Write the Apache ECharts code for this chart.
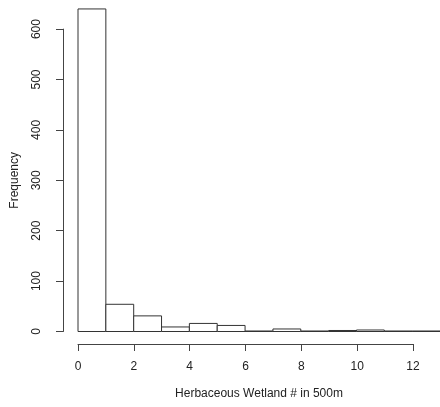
<!DOCTYPE html>
<html><head><meta charset="utf-8">
<script src="https://cdn.jsdelivr.net/npm/echarts@6/dist/echarts.min.js"></script>
<style>html,body{margin:0;padding:0;background:#fff}#c{width:440px;height:407px}</style>
</head><body><div id="c"></div>
<script>
var binStarts = [0,1,2,3,4,5,6,7,8,9,10,11,12];
var binWidth = 1;
var counts = [640,54,31,9,16,12,1,5,1,2,3,1,1];
var xTicks = [0,2,4,6,8,10,12];
var yTicks = [0,100,200,300,400,500,600];
var xTitle = 'Herbaceous Wetland # in 500m';
var yTitle = 'Frequency';

var data = binStarts.map(function(s,i){return [s, s+binWidth, counts[i]];});
var font = 'Liberation Sans, Arial, sans-serif';
var lineCol = '#444';
var chart = echarts.init(document.getElementById('c'), null, {renderer:'canvas'});
var unit = 27.92;
chart.setOption({
  animation:false,
  grid:[
    {left:78, top:331.5-650*0.504, width:unit*13, height:650*0.504, containLabel:false},
    {left:63, top:331.5-600*0.504, width:10, height:600*0.504},
    {left:78, top:330, width:unit*12, height:14}
  ],
  xAxis:[
    {gridIndex:0, type:'value', min:0, max:13, show:false},
    {gridIndex:1, type:'value', show:false},
    {gridIndex:2, type:'value', min:0, max:12, interval:2, position:'bottom',
     axisLine:{show:true, lineStyle:{color:lineCol, width:1}},
     axisTick:{show:true, inside:false, length:7, lineStyle:{color:lineCol}},
     axisLabel:{margin:17, fontFamily:font, fontSize:12, color:'#222'},
     splitLine:{show:false}}
  ],
  yAxis:[
    {gridIndex:0, type:'value', min:0, max:650, show:false},
    {gridIndex:1, type:'value', min:0, max:600, interval:100, position:'left',
     axisLine:{show:true, lineStyle:{color:lineCol, width:1}},
     axisTick:{show:true, inside:false, length:7, lineStyle:{color:lineCol}},
     axisLabel:{rotate:90, margin:20, fontFamily:font, fontSize:12, color:'#222'},
     splitLine:{show:false},
     name:yTitle, nameLocation:'middle', nameGap:42, nameRotate:90,
     nameTextStyle:{fontFamily:font, fontSize:12, color:'#222'}},
    {gridIndex:2, type:'value', show:false}
  ],
  graphic:[{type:'text', x:259, y:394, style:{text:xTitle, font:'12px '+font, fill:'#222', textAlign:'center', textVerticalAlign:'middle'}}],
  series:[{
    type:'custom', xAxisIndex:0, yAxisIndex:0, data:data, clip:false,
    renderItem:function(params, api){
      var p0 = api.coord([api.value(0), 0]);
      var p1 = api.coord([api.value(1), api.value(2)]);
      return {type:'rect', shape:{x:p0[0], y:p1[1], width:p1[0]-p0[0], height:p0[1]-p1[1]},
        style:{fill:'#fff', stroke:'#333', lineWidth:1}};
    }
  }]
});
</script></body></html>
